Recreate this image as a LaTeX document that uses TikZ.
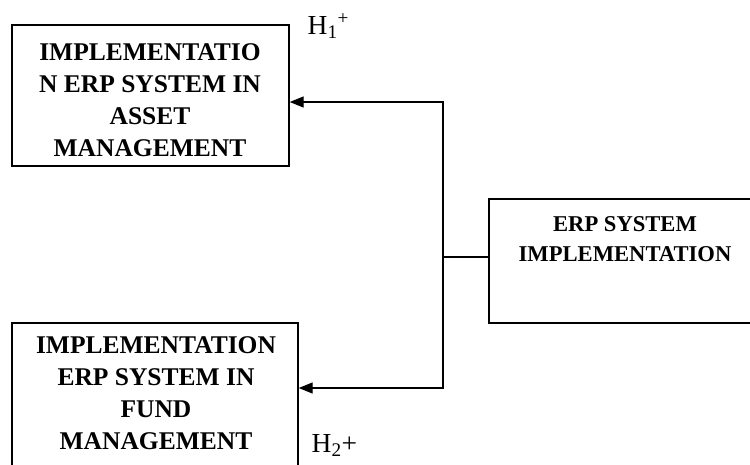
\documentclass[tikz,border=0pt]{standalone}
\usepackage{fontspec}
\setmainfont{Liberation Serif}
\usetikzlibrary{arrows.meta}
\begin{document}
\begin{tikzpicture}[x=1pt,y=-1pt,
 box/.style={draw, line width=1.4pt, inner sep=0pt},
 bigtxt/.style={align=center, font=\fontsize{25.5}{32}\selectfont\bfseries, inner sep=0pt},
 midtxt/.style={align=center, font=\fontsize{22.6}{30}\selectfont\bfseries, inner sep=0pt},
 htxt/.style={font=\fontsize{27.5}{30}\selectfont, inner sep=0pt, anchor=base west},
 link/.style={line width=1.4pt},
 arr/.style={line width=1.4pt, -{Triangle[length=14pt,width=11pt]}}]
\useasboundingbox (0,0) rectangle (750,464);
% boxes
\node[box, minimum width=277pt, minimum height=141pt] (asset) at (150.5,95.5) {};
\node[bigtxt] (assettext) at (150,100) {IMPLEMENTATIO\\N ERP SYSTEM IN\\ASSET\\MANAGEMENT};
\node[box, minimum width=286pt, minimum height=157pt] (fund) at (155,401.5) {};
\node[bigtxt] (fundtext) at (156,392.75) {IMPLEMENTATION\\ERP SYSTEM IN\\FUND\\MANAGEMENT};
\node[box, minimum width=272pt, minimum height=124pt] (erp) at (625,261) {};
\node[midtxt] (erptext) at (625,239.6) {ERP SYSTEM\\IMPLEMENTATION};
% labels
\node[htxt] (h1) at (307.5,34) {H\textsubscript{1}\textsuperscript{+}};
\node[htxt] (h2) at (311.5,452) {H\textsubscript{2}+};
% connectors
\coordinate (j) at (443,257);
\draw[link] (erp.west |- j) -- (j);
\draw[arr] (j) |- ([yshift=-6.5pt]asset.east);
\draw[arr] (j) |- ([yshift=13.5pt]fund.east);
\end{tikzpicture}
\end{document}
